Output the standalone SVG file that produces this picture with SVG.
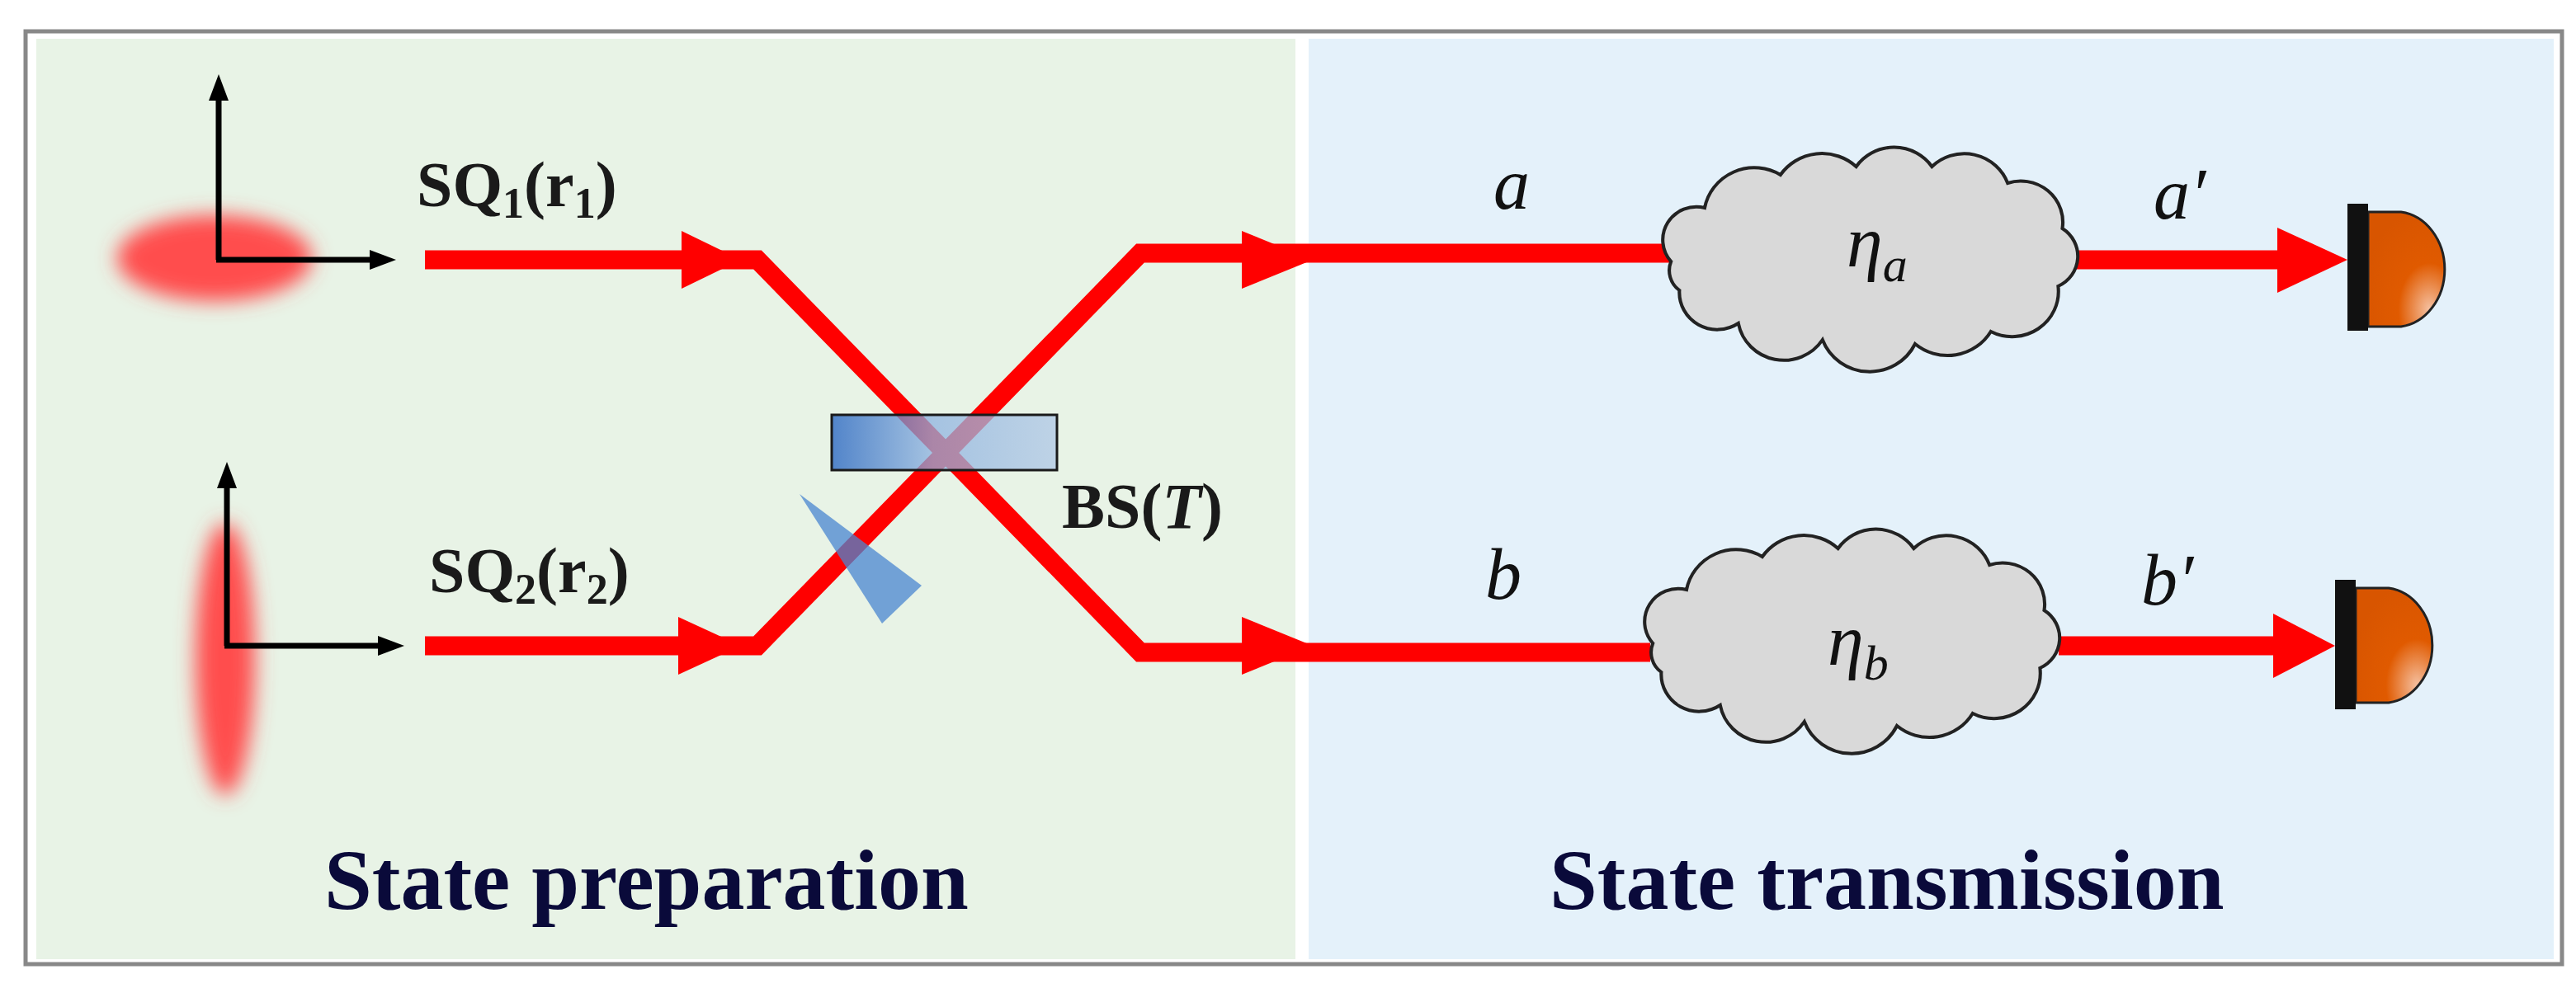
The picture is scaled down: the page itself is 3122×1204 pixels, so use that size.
<svg xmlns="http://www.w3.org/2000/svg" width="3122" height="1204" viewBox="0 0 3122 1204">
<defs>
<style>
.beam{fill:none;stroke:#ff0000;stroke-width:23;stroke-linejoin:miter}
.head{fill:#ff0000}
.axis{stroke:#000;stroke-width:7;fill:none}
.ahead{fill:#000}
.lbl{font-family:'Liberation Serif','Times New Roman',serif;font-weight:bold;font-size:78px;fill:#1a1a1a}
.it{font-family:'Liberation Serif','Times New Roman',serif;font-style:italic;font-size:88px;fill:#111}
.title{font-family:'Liberation Serif','Times New Roman',serif;font-weight:bold;font-size:104px;fill:#0a0a3a}
.cloud{fill:#d9d9d9;stroke:#222;stroke-width:4}
</style>
<filter id="blur" x="-50%" y="-50%" width="200%" height="200%"><feGaussianBlur stdDeviation="12"/></filter>
<linearGradient id="bsg" x1="0" x2="1" y1="0" y2="0">
<stop offset="0" stop-color="#1f5fc0"/><stop offset="0.45" stop-color="#8fb3e0"/><stop offset="1" stop-color="#b0c8e6"/>
</linearGradient>
<radialGradient id="det" cx="0.8" cy="0.85" r="0.9">
<stop offset="0" stop-color="#f5c0a0"/><stop offset="0.45" stop-color="#e05a00"/><stop offset="1" stop-color="#d85500"/>
</radialGradient>
<path id="cloudp" d="M -240,10 A 40 40 0 0 1 -200,-55 A 60 60 0 0 1 -110,-95 A 60 60 0 0 1 -20,-105 A 55 55 0 0 1 70,-105 A 55 55 0 0 1 160,-85 A 50 50 0 0 1 225,-30 A 40 40 0 0 1 220,40 A 55 55 0 0 1 140,95 A 60 60 0 0 1 50,110 A 60 60 0 0 1 -60,105 A 55 55 0 0 1 -160,85 A 45 45 0 0 1 -230,45 A 30 30 0 0 1 -240,10 Z"/>
</defs>
<rect x="0" y="0" width="3122" height="1204" fill="#fff"/>
<rect x="31" y="38" width="3074" height="1131" fill="#fff" stroke="#888" stroke-width="5"/>
<rect x="44" y="47" width="1526" height="1116" fill="#e8f3e6"/>
<rect x="1586" y="47" width="1509" height="1116" fill="#e4f1fa"/>

<g id="states">
<ellipse cx="260" cy="313" rx="118" ry="52" fill="#ff4d4d" filter="url(#blur)"/>
<ellipse cx="273" cy="799" rx="36" ry="165" fill="#ff4d4d" filter="url(#blur)"/>
<path class="axis" d="M265,315 V110 M262,315 H455"/>
<polygon class="ahead" points="265,90 253,122 277,122"/>
<polygon class="ahead" points="480,315 448,303 448,327"/>
<path class="axis" d="M275,783 V580 M272,783 H465"/>
<polygon class="ahead" points="275,560 263,592 287,592"/>
<polygon class="ahead" points="490,783 458,771 458,795"/>
</g>

<g id="connectors">
<path class="beam" d="M515,315 H918 L1382,791 H2000"/>
<path class="beam" d="M515,783 H918 L1382,307 H2035"/>
<path class="beam" d="M2515,315 H2770"/>
<path class="beam" d="M2495,783 H2765"/>
<polygon class="head" points="898,315 826,280 826,350"/>
<polygon class="head" points="898,783 822,748 822,818"/>
<polygon class="head" points="1591,315 1505,280 1505,350"/>
<polygon class="head" points="1591,783 1505,748 1505,818"/>
<polygon class="head" points="2845,315 2760,276 2760,355"/>
<polygon class="head" points="2830,783 2755,744 2755,822"/>
</g>

<g id="bs">
<rect x="1008" y="503" width="273" height="67" fill="url(#bsg)" fill-opacity="0.75" stroke="#1a1a1a" stroke-width="3"/>
<polygon points="969,599 1117,710 1069,756" fill="#4a86d0" fill-opacity="0.75"/>
<text class="lbl" x="1287" y="640" font-family="'Liberation Serif', serif">BS(<tspan font-style="italic">T</tspan>)</text>
</g>

<g id="labels" font-family="'Liberation Serif', serif">
<text class="lbl" x="505" y="250">SQ<tspan font-size="52" dy="14">1</tspan><tspan dy="-14">(r</tspan><tspan font-size="52" dy="14">1</tspan><tspan dy="-14">)</tspan></text>
<text class="lbl" x="520" y="718">SQ<tspan font-size="52" dy="14">2</tspan><tspan dy="-14">(r</tspan><tspan font-size="52" dy="14">2</tspan><tspan dy="-14">)</tspan></text>
<text class="it" x="1810" y="253">a</text>
<text class="it" x="2610" y="265">a′</text>
<text class="it" x="1800" y="726">b</text>
<text class="it" x="2595" y="733">b′</text>
</g>

<g id="cloud-a">
<use href="#cloudp" class="cloud" transform="translate(2270,307) scale(1.02,1.0)"/>
<text class="it" x="2238" y="323">η<tspan font-size="60" dy="18">a</tspan></text>
</g>
<g id="cloud-b">
<use href="#cloudp" class="cloud" transform="translate(2248,770) scale(1.02,1.0)"/>
<text class="it" x="2215" y="806">η<tspan font-size="60" dy="18">b</tspan></text>
</g>

<g id="detector-a">
<path d="M2870,257 H2910 A60 70 0 0 1 2910,396 H2870 Z" fill="url(#det)" stroke="#222" stroke-width="3"/>
<rect x="2845" y="247" width="25" height="154" fill="#111"/>
</g>
<g id="detector-b">
<path d="M2855,713 H2895 A60 70 0 0 1 2895,852 H2855 Z" fill="url(#det)" stroke="#222" stroke-width="3"/>
<rect x="2830" y="703" width="25" height="157" fill="#111"/>
</g>

<text class="title" x="393" y="1102">State preparation</text>
<text class="title" x="1878" y="1102">State transmission</text>
</svg>
